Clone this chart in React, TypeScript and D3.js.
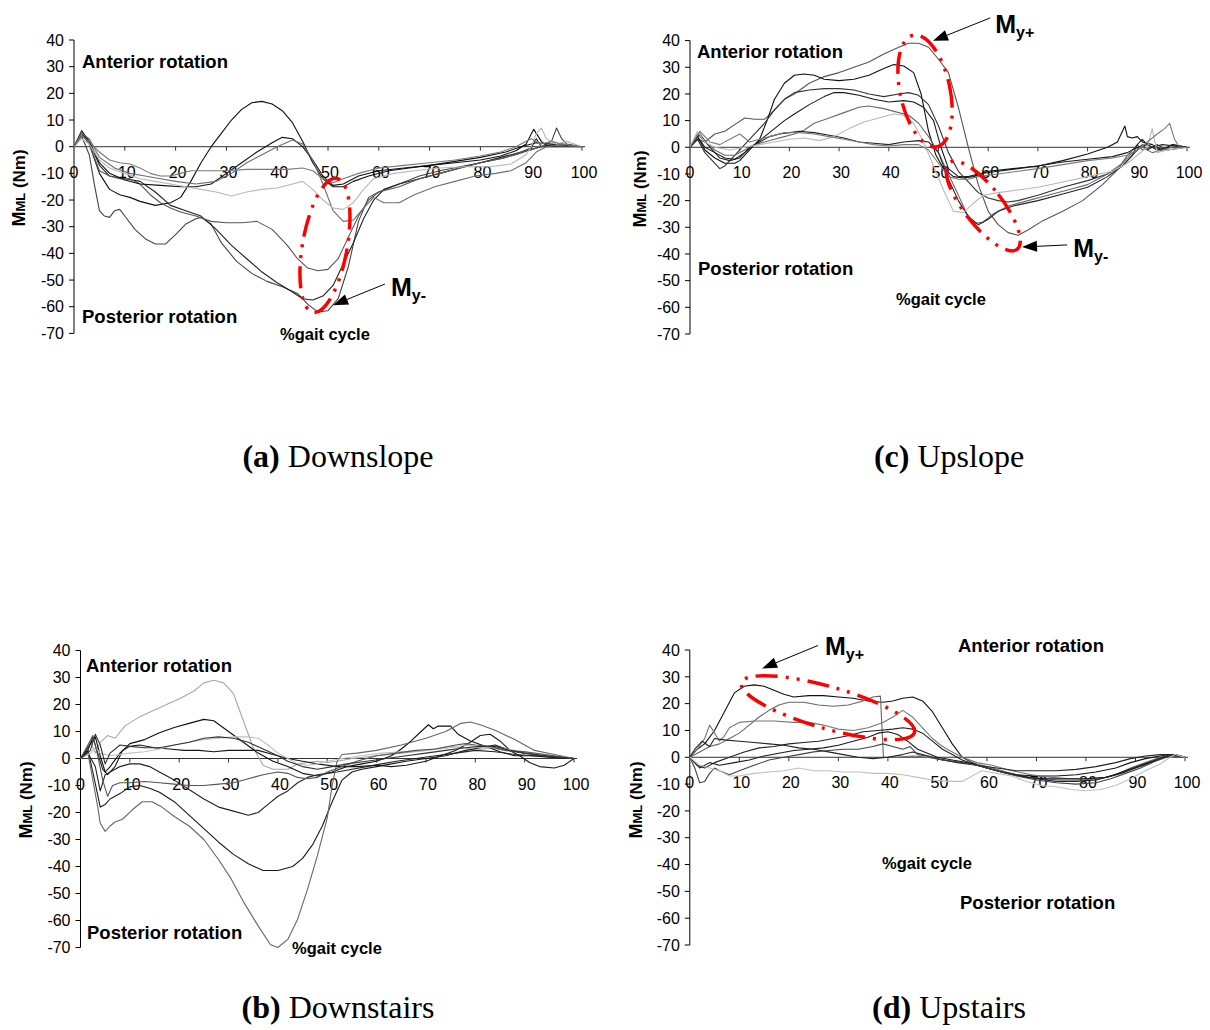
import React from 'react';
import * as d3 from 'd3';

type Pt = [number, number];

// ---------- shared axis values ----------
const xTickValues = [0, 10, 20, 30, 40, 50, 60, 70, 80, 90, 100];
const yTickValues = [40, 30, 20, 10, 0, -10, -20, -30, -40, -50, -60, -70];

// ---------- (a) Downslope ----------
const downslope1: Pt[] = [[0,0],[1.5,5],[3,1],[5,-10],[7,-16],[9,-18],[11,-19],[13,-20.5],[16,-22],[19,-21],[21,-19],[23,-13],[25,-6],[27,0],[29,5],[31,10],[33,14],[35,16.5],[37,17],[39,16],[41,13.5],[43,9],[45,2],[47,-6],[49,-12],[51,-15],[53,-15],[55,-13],[58,-11],[62,-9],[66,-8],[70,-7],[75,-5.5],[80,-4],[85,-2],[88,0],[91,1.5],[94,1],[97,0.5],[100,0]];
const downslope2: Pt[] = [[0,0],[1.5,4],[3,-3],[4,-14],[5,-24],[6,-26],[7,-26.5],[8,-24],[9,-23.5],[10,-26],[12,-31],[14,-34.5],[16,-36.5],[18,-36.5],[20,-33],[22,-29],[24,-27],[25,-26.5],[27,-29],[29,-36],[32,-43],[35,-47.5],[38,-50.5],[41,-52.5],[44,-55],[46,-59],[48,-62],[50,-61.5],[52,-57],[54,-45],[56,-28],[58,-19],[60,-17],[64,-14],[68,-11],[72,-9],[76,-7.5],[80,-6],[84,-4.5],[87,-3],[90,-1],[92,0],[94,2],[95,7],[96,3],[97,1],[100,0]];
const downslope3: Pt[] = [[0,0],[1.5,6],[3,2],[5,-7],[7,-11],[10,-12],[13,-13],[16,-17],[19,-22],[22,-24],[25,-26],[28,-31],[31,-37],[34,-42],[37,-47],[40,-51],[43,-54.5],[45,-57],[47,-57.5],[49,-56],[51,-52],[53,-44],[55,-36],[57,-27],[59,-20],[61,-16],[64,-14],[68,-12],[72,-10],[76,-8],[80,-6],[84,-4],[88,-2],[90,-0.5],[91,3],[92,0],[96,0],[100,0]];
const downslope4: Pt[] = [[0,0],[1.5,5],[3,1],[5,-9],[7,-11],[9,-12],[11,-12],[13,-14],[15,-18],[17,-21],[19,-23],[21,-24.5],[24,-26],[27,-28],[30,-28.5],[33,-28.5],[36,-28],[39,-31],[42,-37],[44,-42],[46,-45.5],[48,-46.5],[50,-46],[52,-42],[54,-34],[56,-26],[58,-20],[60,-17],[64,-15],[68,-12],[72,-10],[76,-8],[80,-6],[85,-4],[88,-2],[90,-1],[93,0.5],[100,0]];
const downslope5: Pt[] = [[0,0],[1.5,5],[3,2],[5,-6],[7,-10],[10,-12.5],[13,-14],[17,-14.5],[21,-15],[24,-15],[27,-14],[30,-10],[33,-6],[36,-2],[39,1.5],[41,3.5],[43,3],[45,0],[47,-5],[49,-11],[51,-14.5],[53,-14],[56,-11],[60,-9],[65,-8],[70,-7],[75,-6],[80,-5],[84,-3.5],[87,-1.5],[89,1],[90.5,6.5],[92,2],[93,0.5],[96,1],[100,0]];
const downslope6: Pt[] = [[0,0],[1.5,5],[3,3],[5,-4],[8,-8],[11,-10],[14,-11],[17,-12],[20,-13],[24,-14],[28,-13],[31,-10],[34,-6],[37,-3],[40,0],[43,2.5],[45,1],[47,-5],[49,-14],[51,-24],[53,-28],[55,-27.5],[57,-23],[59,-19],[61,-21],[64,-21],[67,-18],[71,-15],[75,-13],[79,-11],[83,-10],[86,-9],[89,-6],[91,-2],[93,0],[96,1],[100,0]];
const downslope7: Pt[] = [[0,0],[1.5,3],[3,1],[5,-5],[7,-8],[10,-10],[13,-12],[16,-13],[19,-14],[22,-15],[25,-16],[28,-17],[31,-18.5],[34,-17],[37,-16],[40,-15.5],[43,-14],[45,-13],[47,-16],[49,-20],[51,-23],[53,-23.5],[55,-21],[57,-16],[59,-12],[63,-10],[67,-9],[72,-8],[77,-7.5],[82,-7.5],[86,-6.5],[89,-3],[90,0],[91,5],[92,7],[93,3],[95,1],[97,2],[100,0]];
const downslope8: Pt[] = [[0,0],[1.5,4],[3,2],[5,-2],[7,-5],[9,-6],[11,-6.5],[13,-8],[15,-10],[17,-11],[19,-11],[21,-10],[23,-9],[26,-9],[30,-9],[34,-8.5],[38,-8.5],[42,-8.5],[45,-8],[47,-9],[49,-12],[51,-13.5],[53,-12],[56,-10],[60,-8],[65,-7],[70,-6],[75,-5],[80,-3.5],[84,-2],[87,0],[89,2],[90,3],[92,1],[94,2],[96,1],[100,0]];

// ---------- (c) Upslope ----------
const upslope1: Pt[] = [[0,0],[1.5,3],[3,2],[5,5],[7,6],[9,8.5],[11,11],[13,10.5],[15,10.5],[17,14],[19,18],[21,20],[24,24],[27,26.5],[30,28],[33,30],[36,32],[39,35],[42,37.5],[44,39],[46,39],[48,37.5],[50,33],[52,28],[54,15],[56,0],[58,-14],[60,-24],[62,-29],[64,-32],[66,-33],[68,-31],[71,-27.5],[75,-24],[79,-20],[83,-14],[86,-8.5],[88,-3],[90,1],[91,-1],[93,0],[95,-1],[97,1],[100,0]];
const upslope2: Pt[] = [[0,0],[1.5,4],[3,-1],[5,-4],[7,-6],[9,-6],[10,-5],[12,-1],[14,3],[15.5,10],[17,18],[19,24],[21,27],[23,27.5],[25,27],[27,25.5],[30,25],[33,25.5],[36,27],[39,29.5],[41,31],[43,30.5],[45,28],[46.5,20],[48,6],[49.5,-3],[51,-8],[53,-11],[55,-11.5],[57,-11],[60,-9],[65,-8],[70,-7],[75,-5],[80,-2.5],[84,0],[86,2],[87.5,8],[88,4],[89,3.5],[90,4],[91,2],[93,1],[95,-1],[97,1],[100,0]];
const upslope3: Pt[] = [[0,0],[1.5,4],[3,0],[5,-2],[7,-4],[9,-4.5],[11,-2],[13,1],[15,4],[17,7],[19,10],[21,12.5],[24,16],[27,19],[29,20.5],[31,20.5],[34,19.5],[37,18],[40,17],[43,17.5],[45,17],[47,15],[49,10],[50.5,0],[52,-8],[54,-11],[56,-11],[58,-10],[62,-9],[66,-8],[70,-7],[75,-5.5],[80,-4.5],[85,-3.5],[88,-2],[90,0],[92,1],[94,-1],[96,0],[100,0]];
const upslope4: Pt[] = [[0,0],[1.5,3],[3,-2],[5,-6],[6,-8],[7,-7],[9,-3],[11,1],[13,5],[15,9],[17,14],[19,18],[21,20.5],[24,21.5],[27,22],[30,22],[33,21.5],[36,20],[39,19],[42,20],[44,20.5],[46,19.5],[48,16],[50,8],[52,-2],[54,-9],[56,-13],[58,-17],[60,-19],[62,-20],[64,-20.5],[66,-20],[70,-18],[75,-15],[80,-12.5],[84,-10],[87,-7],[89,-3],[91,1],[92,-1],[94,1],[96,-1],[100,0]];
const upslope5: Pt[] = [[0,0],[1.5,5],[3,2],[5,-1],[7,-3],[9,-3],[11,-1],[13,1],[15,2],[17,3],[19,4],[21,5],[23,6.5],[25,9],[28,11],[31,13],[34,15],[36,15.5],[39,14.5],[42,13],[44,12],[46,9],[48,4],[50,-2],[52,-10],[54,-18],[56,-26],[57.5,-28.5],[59,-28],[61,-25],[64,-22],[68,-20],[72,-18],[76,-16],[80,-14],[84,-10],[87,-6],[89,-2],[91,0],[93,-2],[95,-1],[97,0],[100,0]];
const upslope6: Pt[] = [[0,0],[2,5],[4,0],[6,-4],[8,-5],[10,-4],[12,0],[14,2],[16,4],[18,5],[20,5.5],[22,6],[25,5.5],[28,4.5],[31,3.5],[34,2],[37,1.5],[40,1],[43,2],[46,2.5],[48,2],[50,-2],[52,-12],[54,-20],[56,-26],[58,-29],[60,-27],[62,-24],[65,-22],[70,-20],[75,-17.5],[80,-15],[84,-11],[87,-7],[89,-3],[90,1],[91,3],[92,1],[93,0],[95,1],[100,0]];
const upslope7: Pt[] = [[0,0],[1.5,6],[3,2],[5,0],[8,-1],[11,0],[14,1],[17,2],[20,3],[23,3.5],[26,2.5],[29,4],[32,7],[35,9.5],[38,11],[41,12.5],[43,12],[45,9],[47,2],[49,-7],[51,-16],[53,-24],[55,-24.5],[57,-21],[59,-18],[62,-17],[66,-16],[70,-15],[75,-13],[80,-11],[85,-9],[88,-6],[90,-3],[92,0],[93,7],[94,-2],[96,-1],[100,0]];
const upslope8: Pt[] = [[0,0],[2,6],[4,2],[6,1],[8,3],[10,5],[12,2],[14,3],[16,4],[19,5.5],[22,5.5],[25,5],[28,4],[31,3],[34,2],[37,1],[40,0.5],[43,1],[46,1],[48,-1],[50,-6],[52,-11],[54,-12],[56,-12],[58,-11],[62,-10],[66,-9],[70,-8],[75,-6.5],[80,-5],[85,-4],[88,-3],[90,-1],[92,2],[94,5],[95.5,7],[96.5,9],[97.5,3],[98.5,0],[100,0]];

// ---------- (b) Downstairs ----------
const downstairs1: Pt[] = [[0,0],[1,3],[2,6],[3,2],[4,6],[5.5,8.5],[7,7.5],[9,12],[12,15.5],[15,18],[18,20.5],[20,22],[23,25],[25,28],[27,29],[29,28],[31,24],[33,14],[35,4],[37,-2.5],[39,-4],[42,-4],[44,-2],[46,-1.5],[48,-1],[50,-1.5],[52,-1],[55,0],[60,1],[65,2],[70,3],[75,4.5],[78,4],[80,3],[83,4],[86,3],[90,2],[95,1],[100,0]];
const downstairs2: Pt[] = [[0,0],[1.5,4],[3,8],[4,1],[5,-5],[6,-3],[8,2],[10,5.5],[13,7],[16,9.5],[19,11.5],[22,13],[25,14.5],[27,14],[30,10],[33,6],[36,2],[39,-1],[42,-3],[45,-5.5],[48,-6.5],[51,-5],[54,-3],[57,-2],[60,-1],[63,1],[65,3.5],[67,6.5],[69,10],[70.5,12.5],[71.5,11],[72.5,12],[75,12],[76.5,9],[79,6.5],[82,4.5],[85,2.5],[88,1],[91,1],[95,0.5],[100,0]];
const downstairs3: Pt[] = [[0,0],[1.5,3],[2.5,-5],[4,-18],[5,-17],[6,-15],[8,-13],[10,-10.5],[12,-10],[14,-11],[16,-12.5],[19,-16],[22,-21],[25,-26],[28,-31],[31,-35.5],[34,-39],[37,-41.5],[40,-41.5],[43,-40],[45,-37],[47,-32],[49,-25],[51,-16],[53,-8],[55,-5],[57,-4],[60,-3],[63,-2],[66,-1],[70,0],[74,1],[78,3],[81,4],[84,5],[87,3],[90,2],[94,1],[100,0]];
const downstairs4: Pt[] = [[0,0],[1.5,2],[3,-3],[4,-12],[5,-6],[6,-5],[8,-3],[10,-2],[12,-2],[14,-3],[16,-5],[19,-8],[22,-11.5],[25,-15],[28,-18],[31,-19.5],[34,-21],[36,-20],[38,-17],[40,-14],[42,-12],[44,-9],[46,-7],[48,-6],[50,-5.5],[52,-5],[55,-4],[58,-3],[61,-2],[64,-1],[68,0],[72,1],[76,2],[80,3],[84,2.5],[88,1.5],[92,1],[96,0.5],[100,0]];
const downstairs5: Pt[] = [[0,0],[1.5,2],[2.5,-8],[3.5,-18],[4,-24],[5,-27],[6,-25],[7,-23.5],[8.5,-22.5],[10.5,-19],[12.5,-16],[14.5,-16],[16.5,-18],[19,-21.5],[22,-25],[25,-30],[28,-37.5],[30.5,-44.5],[33,-53],[36,-62],[38.5,-69],[40,-70],[42,-67],[44,-59.5],[46,-48.5],[48,-36],[50,-22],[51,-10],[52,-1],[53,1.5],[56,2],[60,3],[65,5],[70,7.5],[74,10],[77,13],[79,13.5],[81,12.5],[84,10.5],[88,7],[92,3],[96,1.5],[100,0]];
const downstairs6: Pt[] = [[0,0],[1.5,3],[2.5,8],[3.5,2],[4.5,-4],[5.5,-6],[7,-3],[8.5,3],[10,4.5],[12,5],[15,4],[18,3.5],[21,3],[24,3],[27,2.5],[30,3],[33,3],[36,3],[39,1.5],[42,0],[45,-1],[48,-2],[52,-3],[56,-3],[60,-2.5],[63,-3],[66,-2.5],[70,-1],[73,1],[76,3],[79,6],[81,8.5],[83,9],[85,6.5],[87,3],[89,1],[91,-1.5],[93,-3],[96,-3.5],[98,-2.5],[100,0]];
const downstairs7: Pt[] = [[0,0],[2,2],[3,4],[4,2],[6,1],[8,1.5],[10,2],[13,2.5],[16,3.5],[19,5],[22,6],[25,7],[28,7.5],[31,8],[34,8],[36,7.5],[38,5],[40,2],[42,0],[44,-2],[46,-2.5],[48,-2],[50,-1],[53,0],[57,1],[61,2],[65,2.5],[70,3],[75,4],[78,5],[80,4.5],[82,4],[85,4],[88,3],[92,2],[96,1],[100,0]];
const downstairs8: Pt[] = [[0,0],[1.5,5],[2.5,8.5],[3.5,1],[4.5,-8],[5.5,-14],[6.5,-10],[8,-9],[10,-9],[13,-8.5],[16,-9],[19,-9.5],[22,-10],[25,-10],[28,-9.5],[31,-9],[34,-7.5],[37,-6],[40,-5],[42,-5.5],[44,-7],[46,-7.5],[48,-7],[50,-5],[53,-3],[56,-1],[60,1],[64,2],[68,3],[72,3.5],[76,5],[78,5.5],[80,5],[83,4.5],[86,3],[90,2.5],[94,1.5],[100,0]];
const downstairs9: Pt[] = [[0,0],[2,3],[3,9],[4,5],[5,-2],[6,2],[8,5],[10,4.5],[13,4],[16,4],[19,5],[22,6],[25,7.5],[28,8],[31,7.5],[34,6],[37,3.5],[40,1],[42,-1],[45,-3],[48,-4],[51,-3],[54,-2],[58,-1],[62,0],[66,1],[70,2],[74,3],[78,4],[81,4.5],[84,4.5],[87,3],[90,2],[94,1],[100,0]];

// ---------- (d) Upstairs ----------
const upstairs1: Pt[] = [[0,0],[1.5,3],[3,5],[5,10],[7,17],[9,24],[11,26.5],[13,27],[15,26.5],[17,25],[19,23.5],[21,22.5],[24,23],[27,23],[30,22.5],[33,22],[36,21],[39,20.5],[41,21],[43,22],[45,22.5],[47,21],[49,17],[51,11],[53,5],[55,0],[57,-2],[60,-4],[63,-5.5],[66,-6.5],[70,-7],[74,-7],[78,-6.5],[82,-5.5],[86,-4],[89,-2],[92,-0.5],[95,0.5],[97,1],[99,0.5],[100,0]];
const upstairs2: Pt[] = [[0,0],[2,2],[4,4],[6,5],[8,7],[10,9],[12,12],[14,15],[16,17.5],[18,19.5],[20,20.5],[23,20.5],[26,19.5],[29,19],[32,19.5],[35,21],[37,22.5],[38.5,22.8],[39.1,0],[42,0],[45,0.5],[48,0],[51,-1],[55,-2],[59,-3],[63,-5],[67,-7],[71,-8],[75,-8.5],[79,-8.5],[83,-8],[86,-6.5],[89,-4],[92,-2],[95,0],[97,1],[100,0]];
const upstairs3: Pt[] = [[0,0],[1.5,3],[3,7],[4,12],[5,9],[6,6],[7,8],[8,11],[10,13],[13,13.5],[17,13.5],[21,13],[24,13],[27,12],[30,10.5],[33,10],[36,11],[39,13],[41,15],[43,17.5],[45,15],[47,11],[49,7],[51,4],[53,2],[55,0],[58,-2],[61,-3],[65,-5],[69,-6.5],[73,-7.5],[77,-8],[81,-8],[84,-7.5],[87,-6],[90,-4],[93,-2],[96,0.5],[98,1],[100,0]];
const upstairs4: Pt[] = [[0,0],[1.5,-3],[3,-4],[5,-2],[8,0],[11,2],[14,3.5],[17,4],[20,5],[23,5.5],[26,6],[29,7],[32,8],[35,9.5],[38,10],[41,10.5],[43,11],[45,10.5],[47,9],[49,6],[51,3],[53,1],[55,-1],[58,-3],[62,-5],[66,-6.5],[70,-8],[74,-9],[78,-9],[82,-8.5],[85,-7],[88,-5],[91,-3],[94,-1],[97,1],[100,0]];
const upstairs5: Pt[] = [[0,0],[2,-4],[4,-2],[6,-3],[9,-2],[12,-1],[15,0.5],[18,1.5],[21,2.5],[24,3],[27,3.5],[30,4.5],[33,6],[36,7.5],[38,9],[40,9.5],[42,8.5],[44,6],[46,3],[48,1.5],[50,0],[53,-1],[56,-2],[60,-4],[64,-6],[68,-7.5],[72,-8],[76,-8],[80,-8],[84,-7.5],[87,-6],[90,-4],[93,-2],[96,0],[98,1],[100,0]];
const upstairs6: Pt[] = [[0,0],[1,3],[2.5,6],[4,4],[5,7],[7,6.5],[10,6],[13,5.5],[16,5],[19,4.5],[22,3.5],[25,3],[28,2],[31,1],[34,0],[37,-0.5],[40,0],[43,1],[45,2],[47,1],[50,-0.5],[54,-2],[58,-3],[62,-4],[66,-5],[70,-5],[74,-5],[78,-4.5],[82,-3.5],[86,-2],[89,-0.5],[92,0.5],[95,1],[98,1],[100,0]];
const upstairs7: Pt[] = [[0,0],[1,-4],[2,-9.5],[3,-9],[4,-6],[5,-4],[6,-5],[8,-6.5],[10,-5],[13,-3],[16,-1],[19,0],[22,1],[25,2],[28,2.5],[31,3],[34,3],[37,4],[39,5],[41,4],[43,3],[44.5,4],[46,1],[48,0.5],[51,-1],[55,-2],[58,-3],[62,-5],[66,-7],[70,-8.5],[74,-9.5],[78,-10],[82,-9.5],[85,-8],[88,-6],[91,-4],[94,-1.5],[97,0.5],[100,0]];
const upstairs8: Pt[] = [[0,0],[2,-3],[4,-4],[6,-5],[8,-7],[10,-7],[13,-6],[16,-5.5],[19,-5],[22,-4],[25,-5],[28,-5],[31,-5.5],[34,-5.5],[37,-6],[40,-6],[43,-6.5],[46,-7.5],[49,-8.5],[52,-9],[55,-9],[57,-7],[59,-5],[62,-6],[65,-7],[68,-9],[71,-10.5],[74,-11],[77,-12],[80,-12.5],[83,-12],[86,-10.5],[89,-8],[92,-5],[95,-2.5],[97,0],[98,1],[100,0]];

// ---------- line shades ----------
const shadesA = ['#111111', '#444444', '#222222', '#555555', '#111111', '#6e6e6e', '#b8b8b8', '#7a7a7a'];
const shadesC = ['#555555', '#111111', '#1a1a1a', '#333333', '#6a6a6a', '#222222', '#b8b8b8', '#7a7a7a'];
const shadesB = ['#a8a8a8', '#111111', '#1a1a1a', '#222222', '#666666', '#1a1a1a', '#c0c0c0', '#555555', '#333333'];
const shadesD = ['#111111', '#666666', '#777777', '#222222', '#1a1a1a', '#222222', '#444444', '#c0c0c0'];

type Ellipse = { cx: number; cy: number; rx: number; ry: number; rot: number };
type Arrow = { from: Pt; to: Pt; label: Pt; sub: string };

interface PanelDef {
  id: string;
  left: number; right: number; top: number; bottom: number;
  series: Pt[][];
  shades: string[];
  ant: [number, number]; post: [number, number]; gait: [number, number];
  ylab: [number, number];
  caption: [number, number]; capBold: string; capText: string;
  ellipses: Ellipse[];
  arrows: Arrow[];
}

const panels: PanelDef[] = [
  {
    id: 'a', left: 74, right: 582, top: 40, bottom: 333.4,
    series: [downslope1, downslope2, downslope3, downslope4, downslope5, downslope6, downslope7, downslope8],
    shades: shadesA,
    ant: [82, 68], post: [82, 323], gait: [280, 340], ylab: [25, 188],
    caption: [338, 467], capBold: '(a)', capText: ' Downslope',
    ellipses: [{ cx: 49.4, cy: -37, rx: 22.4, ry: 68, rot: 10 }],
    arrows: [{ from: [61.2, -51.5], to: [51, -59.4], label: [62.4, -56], sub: 'y-' }],
  },
  {
    id: 'c', left: 690, right: 1187, top: 40.6, bottom: 334,
    series: [upslope1, upslope2, upslope3, upslope4, upslope5, upslope6, upslope7, upslope8],
    shades: shadesC,
    ant: [697, 58], post: [698, 275], gait: [896, 305], ylab: [646, 189],
    caption: [949, 467], capBold: '(c)', capText: ' Upslope',
    ellipses: [
      { cx: 47.3, cy: 21.1, rx: 25, ry: 57, rot: -12 },
      { cx: 59, cy: -22, rx: 19, ry: 55, rot: -38 },
    ],
    arrows: [
      { from: [60.4, 48.5], to: [48.9, 39.9], label: [61.4, 43], sub: 'y+' },
      { from: [75.9, -36.6], to: [66.8, -37.4], label: [77.1, -41.1], sub: 'y-' },
    ],
  },
  {
    id: 'b', left: 80.5, right: 574, top: 650.5, bottom: 947.5,
    series: [downstairs1, downstairs2, downstairs3, downstairs4, downstairs5, downstairs6, downstairs7, downstairs8, downstairs9],
    shades: shadesB,
    ant: [86, 672], post: [87, 939], gait: [292, 954], ylab: [32, 800],
    caption: [338, 1018], capBold: '(b)', capText: ' Downstairs',
    ellipses: [],
    arrows: [],
  },
  {
    id: 'd', left: 689.8, right: 1185, top: 650, bottom: 945,
    series: [upstairs1, upstairs2, upstairs3, upstairs4, upstairs5, upstairs6, upstairs7, upstairs8],
    shades: shadesD,
    ant: [958, 652], post: [960, 909], gait: [882, 869], ylab: [642, 800],
    caption: [949, 1018], capBold: '(d)', capText: ' Upstairs',
    ellipses: [{ cx: 27.9, cy: 18.5, rx: 90, ry: 21, rot: 16 }],
    arrows: [{ from: [25.9, 41.7], to: [14.6, 33.1], label: [27.3, 38], sub: 'y+' }],
  },
];

const SANS = 'Liberation Sans, Arial, Helvetica, sans-serif';
const SERIF = 'Liberation Serif, Times New Roman, serif';

function Panel({ p }: { p: PanelDef }) {
  const x = d3.scaleLinear().domain([0, 100]).range([p.left, p.right]);
  const y = d3.scaleLinear().domain([-70, 40]).range([p.bottom, p.top]);
  const line = d3.line<Pt>().x(d => x(d[0])).y(d => y(d[1]));
  const y0 = y(0);

  return (
    <g>
      {/* zero line with ticks */}
      <line x1={p.left} x2={p.right + 3} y1={y0} y2={y0} stroke="#333" strokeWidth={1} />
      {xTickValues.slice(1).map(t => (
        <line key={'xt' + t} x1={x(t)} x2={x(t)} y1={y0} y2={y0 + 4} stroke="#333" strokeWidth={1} />
      ))}
      {xTickValues.map(t => (
        <text key={'xl' + t} x={x(t) + (t === 0 ? 0 : 2)} y={y0 + 31} fontFamily={SANS} fontSize={16}
          textAnchor="middle" fill="#000">{t}</text>
      ))}
      {/* y axis */}
      <line x1={p.left} x2={p.left} y1={y(40)} y2={y(-70)} stroke="#000" strokeWidth={1} />
      {yTickValues.map(t => (
        <g key={'yt' + t}>
          <line x1={p.left - 5} x2={p.left} y1={y(t)} y2={y(t)} stroke="#000" strokeWidth={1} />
          <text x={p.left - 10} y={y(t)} dy="0.36em" fontFamily={SANS} fontSize={16}
            textAnchor="end" fill="#000">{t}</text>
        </g>
      ))}
      {/* series */}
      {p.series.map((s, i) => (
        <path key={'s' + i} d={line(s) || ''} fill="none" stroke={p.shades[i]} strokeWidth={1.1}
          strokeLinejoin="round" />
      ))}
      {/* red ellipses */}
      {p.ellipses.map((e, i) => (
        <ellipse key={'e' + i} cx={0} cy={0} rx={e.rx} ry={e.ry}
          transform={`translate(${x(e.cx)},${y(e.cy)}) rotate(${e.rot})`}
          fill="none" stroke="#ff0000" strokeWidth={3.5} strokeDasharray="22 8 3 8 3 8" />
      ))}
      {/* arrows */}
      {p.arrows.map((a, i) => {
        const fx = x(a.from[0]), fy = y(a.from[1]);
        const tx = x(a.to[0]), ty = y(a.to[1]);
        const dx = tx - fx, dy = ty - fy;
        const len = Math.hypot(dx, dy);
        const ux = dx / len, uy = dy / len;
        const hl = 15, hw = 5.5;
        const bx = tx - ux * hl, by = ty - uy * hl;
        const pts = `${tx},${ty} ${bx - uy * hw},${by + ux * hw} ${bx + uy * hw},${by - ux * hw}`;
        return (
          <g key={'a' + i}>
            <line x1={fx} y1={fy} x2={bx} y2={by} stroke="#000" strokeWidth={1} />
            <polygon points={pts} fill="#000" />
            <text x={x(a.label[0])} y={y(a.label[1])} fontFamily={SANS} fontWeight="bold" fontSize={25} fill="#000">
              M<tspan fontSize={16} dy={5}>{a.sub}</tspan>
            </text>
          </g>
        );
      })}
      {/* labels */}
      <text x={p.ant[0]} y={p.ant[1]} fontFamily={SANS} fontWeight="bold" fontSize={18.5} fill="#000">Anterior rotation</text>
      <text x={p.post[0]} y={p.post[1]} fontFamily={SANS} fontWeight="bold" fontSize={18.5} fill="#000">Posterior rotation</text>
      <text x={p.gait[0]} y={p.gait[1]} fontFamily={SANS} fontWeight="bold" fontSize={16.5} fill="#000">%gait cycle</text>
      <text transform={`translate(${p.ylab[0]},${p.ylab[1]}) rotate(-90)`} textAnchor="middle"
        fontFamily={SANS} fontWeight="bold" fontSize={17} fill="#000">
        <tspan fontSize={18}>M</tspan><tspan fontSize={13}>ML</tspan><tspan> (Nm)</tspan>
      </text>
      <text x={p.caption[0]} y={p.caption[1]} textAnchor="middle" fontFamily={SERIF} fontSize={32} fill="#000">
        <tspan fontWeight="bold">{p.capBold}</tspan><tspan>{p.capText}</tspan>
      </text>
    </g>
  );
}

export default function App() {
  return (
    <svg width={1210} height={1030} viewBox="0 0 1210 1030"
      style={{ position: 'absolute', left: 0, top: 0, background: '#fff' }}>
      <rect x={0} y={0} width={1210} height={1030} fill="#fff" />
      {panels.map(p => <Panel key={p.id} p={p} />)}
    </svg>
  );
}
